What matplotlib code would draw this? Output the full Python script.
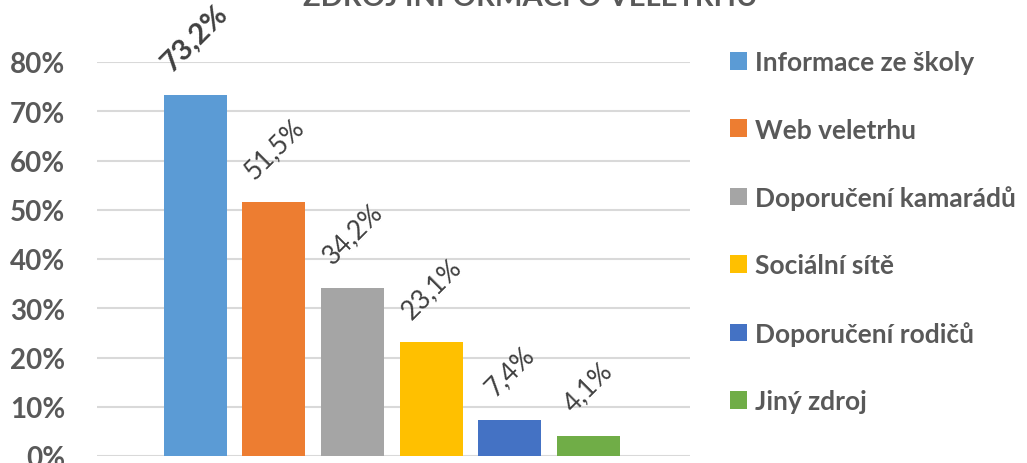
import numpy as np
import matplotlib
matplotlib.use('Agg')
import matplotlib.pyplot as plt

# data
categories = ['Informace ze školy', 'Web veletrhu', 'Doporučení kamarádů',
              'Sociální sítě', 'Doporučení rodičů', 'Jiný zdroj']
values = [73.2, 51.5, 34.2, 23.1, 7.4, 4.1]
labels = ['73,2%', '51,5%', '34,2%', '23,1%', '7,4%', '4,1%']
colors = ['#5B9BD5', '#ED7D31', '#A5A5A5', '#FFC000', '#4472C4', '#70AD47']
yticks = [0, 10, 20, 30, 40, 50, 60, 70, 80]

plt.rcParams['font.family'] = ['Lato', 'DejaVu Sans']

W, H = 1027, 464
fig = plt.figure(figsize=(W / 100, H / 100), dpi=100)
ax = fig.add_axes([97 / W, 7 / H, (690 - 97) / W, (457 - 63) / H])

x = np.arange(len(values))
bars = []
for i in range(len(values)):
    b = ax.bar(x[i], values[i], width=0.8, color=colors[i], label=categories[i], zorder=2)
    bars.append(b)

# rotated value labels
for i in range(len(values)):
    if i == 0:
        ax.annotate(labels[i], (x[i], values[i]), xytext=(0, 14), textcoords='offset points',
                    rotation=45, ha='center', va='bottom', fontsize=21, fontweight='bold',
                    color='#404040')
    else:
        ax.annotate(labels[i], (x[i], values[i]), xytext=(0, 14), textcoords='offset points',
                    rotation=45, ha='center', va='bottom', fontsize=19, color='#404040')

ax.set_xlim(-1.25, 6.29)
ax.set_ylim(0, 80)
ax.set_yticks(yticks)
ax.set_yticklabels([str(t) + '%' for t in yticks], fontsize=20, fontweight='bold', color='#595959')
ax.set_xticks([])
ax.tick_params(axis='y', length=0, pad=23)
ax.grid(axis='y', color='#D9D9D9', linewidth=1.5, zorder=0)
for s in ax.spines.values():
    s.set_visible(False)

leg = fig.legend(handles=[b[0] for b in bars], labels=categories, loc='upper left',
                 bbox_to_anchor=(730 / W, 1 - 51 / H), frameon=False, fontsize=19,
                 handlelength=0.65, handleheight=0.65, handletextpad=0.28,
                 labelspacing=1.65, borderpad=0, borderaxespad=0)
for t in leg.get_texts():
    t.set_fontweight('bold')
    t.set_color('#595959')

fig.text(530 / W, 1 - 6 / H, 'ZDROJ INFORMACÍ O VELETRHU', ha='center', va='baseline',
         fontsize=21, fontweight='bold', color='#595959')

fig.savefig('out.png', dpi=100)
